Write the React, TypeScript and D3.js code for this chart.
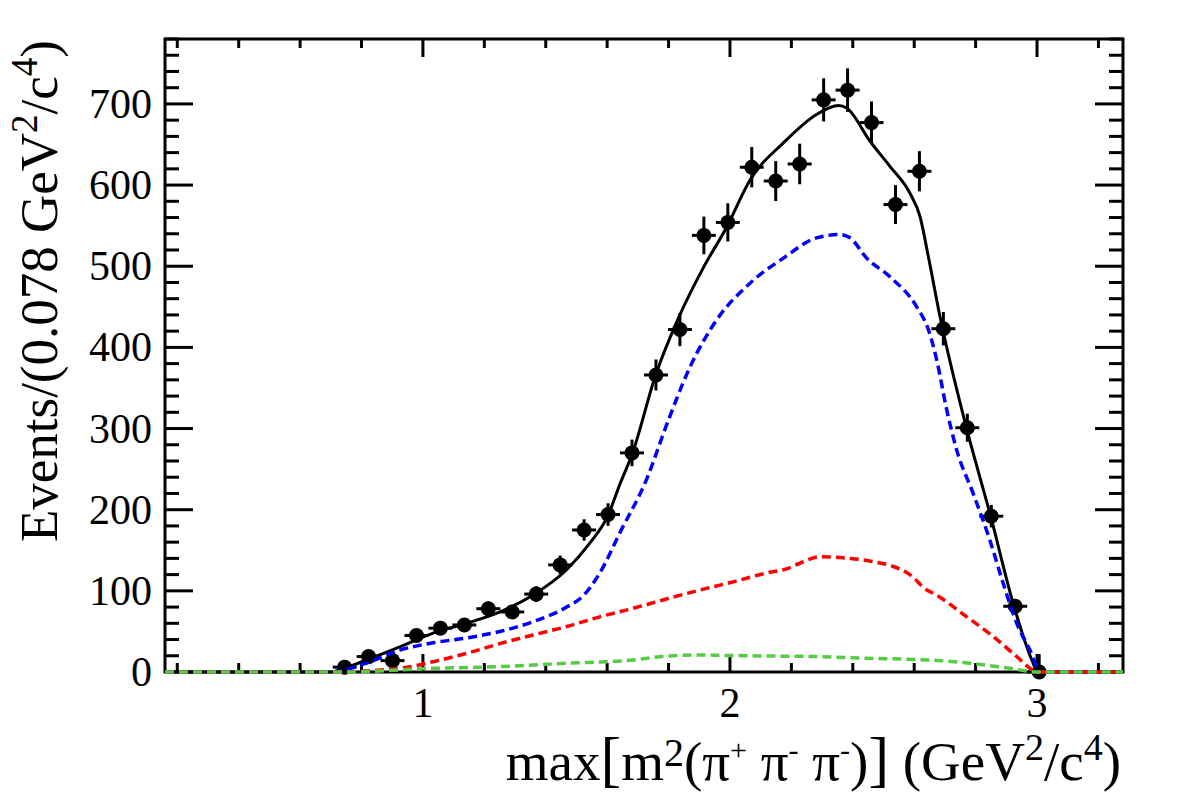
import { useEffect, useRef } from 'react';
import * as d3 from 'd3';

// histogram: 40 bins of 0.078 between 0.16 and 3.28, only filled bins are drawn
const binCenters = [
  0.745, 0.823, 0.901, 0.979, 1.057, 1.135, 1.213, 1.291, 1.369, 1.447,
  1.525, 1.603, 1.681, 1.759, 1.837, 1.915, 1.993, 2.071, 2.149, 2.227,
  2.305, 2.383, 2.461, 2.539, 2.617, 2.695, 2.773, 2.851, 2.929, 3.007,
];
const counts = [
  6, 19, 14, 45, 54, 58, 78, 74, 96, 132,
  175, 194, 270, 366, 422, 538, 554, 622, 605, 626,
  705, 717, 677, 576, 617, 423, 301, 192, 81, 0,
];
const countErrors = [
  2.4, 4.4, 3.7, 6.7, 7.3, 7.6, 8.8, 8.6, 9.8, 11.5,
  13.2, 13.9, 16.4, 19.1, 20.5, 23.2, 23.5, 24.9, 24.6, 25,
  26.6, 26.8, 26, 24, 24.8, 20.6, 17.3, 13.9, 9, 22,
];
const binHalfWidth = 0.039;

// fit projections
const totalFit: [number, number][] = [
  [0.16, 0], [0.697, 0], [0.746, 5], [0.817, 15], [0.925, 31], [1.033, 48],
  [1.143, 60], [1.251, 74], [1.359, 95], [1.468, 126], [1.544, 159],
  [1.603, 193], [1.642, 232], [1.681, 268], [1.758, 366], [1.832, 436],
  [1.913, 498], [1.989, 548], [2.065, 606], [2.174, 652], [2.282, 687],
  [2.353, 698], [2.38, 695], [2.456, 654], [2.521, 623], [2.586, 590],
  [2.619, 561], [2.646, 512], [2.684, 438], [2.77, 301], [2.849, 192],
  [2.925, 81], [2.983, 15], [3.003, 0], [3.28, 0],
];
const signal: [number, number][] = [
  [0.16, 0], [0.697, 0], [0.817, 11], [0.925, 27], [1.033, 36],
  [1.143, 42], [1.251, 50], [1.359, 62], [1.468, 80], [1.522, 94],
  [1.576, 122], [1.642, 172], [1.729, 238], [1.794, 305], [1.87, 376],
  [1.957, 434], [2.065, 479], [2.174, 510], [2.282, 535], [2.358, 539],
  [2.391, 535], [2.445, 510], [2.521, 487], [2.608, 450], [2.646, 422],
  [2.673, 385], [2.706, 323], [2.738, 274], [2.792, 220], [2.846, 163],
  [2.89, 109], [2.934, 60], [2.977, 27], [3.012, 0], [3.28, 0],
];
const background: [number, number][] = [
  [0.16, 0], [0.697, 0], [0.925, 4.5], [1.033, 12.7], [1.143, 23],
  [1.251, 35], [1.359, 45.6], [1.468, 56], [1.576, 68], [1.685, 78.5],
  [1.793, 90], [1.902, 101], [2.01, 111], [2.119, 122], [2.184, 127],
  [2.228, 134], [2.293, 142], [2.391, 140], [2.467, 136], [2.532, 130],
  [2.586, 120], [2.641, 101], [2.662, 97], [2.771, 68], [2.858, 43.5],
  [2.934, 19], [2.988, 2], [3.003, 0], [3.28, 0],
];
const peaking: [number, number][] = [
  [0.16, 0], [0.75, 0], [1.033, 4.5], [1.251, 6.6], [1.468, 10.7],
  [1.685, 14.8], [1.793, 19.7], [1.902, 21], [1.978, 20.5], [2.119, 19.7],
  [2.282, 19], [2.445, 17], [2.586, 15.6], [2.684, 14], [2.782, 10.7],
  [2.912, 4.5], [3.003, 0], [3.28, 0],
];

const xMajorTicks = [1, 2, 3];
const xMinorTicks = [0.2, 0.4, 0.6, 0.8, 1.2, 1.4, 1.6, 1.8, 2.2, 2.4, 2.6, 2.8, 3.2];
const yMajorTicks = [0, 100, 200, 300, 400, 500, 600, 700];

const FONT = "'Liberation Serif', 'Times New Roman', serif";

export default function App() {
  const svgRef = useRef<SVGSVGElement>(null);

  useEffect(() => {
    if (!svgRef.current) return;
    const svg = d3.select(svgRef.current);
    svg.selectAll('*').remove();

    const left = 165, right = 1123, top = 39, bottom = 672;

    const x = d3.scaleLinear().domain([0.16, 3.28]).range([left, right]);
    const y = d3.scaleLinear().domain([0, 780]).range([bottom, top]);

    const frame = svg.append('g');

    // frame
    frame.append('rect')
      .attr('x', left).attr('y', top)
      .attr('width', right - left).attr('height', bottom - top)
      .attr('fill', 'none')
      .attr('stroke', '#000')
      .attr('stroke-width', 3);

    // x ticks, bottom and top
    const xTick = (v: number, len: number) => {
      frame.append('line')
        .attr('x1', x(v)).attr('x2', x(v))
        .attr('y1', bottom).attr('y2', bottom - len)
        .attr('stroke', '#000').attr('stroke-width', 3);
      frame.append('line')
        .attr('x1', x(v)).attr('x2', x(v))
        .attr('y1', top).attr('y2', top + len)
        .attr('stroke', '#000').attr('stroke-width', 3);
    };
    xMajorTicks.forEach(v => xTick(v, 18));
    xMinorTicks.forEach(v => xTick(v, 9));

    // y ticks, left and right
    const yMinor = d3.range(0, 781, 20);
    yMinor.forEach(v => {
      const len = v % 100 === 0 ? 28 : 14;
      frame.append('line')
        .attr('x1', left).attr('x2', left + len)
        .attr('y1', y(v)).attr('y2', y(v))
        .attr('stroke', '#000').attr('stroke-width', 3);
      frame.append('line')
        .attr('x1', right).attr('x2', right - len)
        .attr('y1', y(v)).attr('y2', y(v))
        .attr('stroke', '#000').attr('stroke-width', 3);
    });

    // tick labels
    frame.selectAll('.xlab')
      .data(xMajorTicks)
      .enter()
      .append('text')
      .attr('x', d => x(d))
      .attr('y', 717)
      .attr('text-anchor', 'middle')
      .style('font-family', FONT)
      .style('font-size', '42px')
      .text(d => d);

    frame.selectAll('.ylab')
      .data(yMajorTicks)
      .enter()
      .append('text')
      .attr('x', 152)
      .attr('y', d => y(d) + 14)
      .attr('text-anchor', 'end')
      .style('font-family', FONT)
      .style('font-size', '42px')
      .text(d => d);

    // data points with error bars
    const pts = svg.append('g');
    binCenters.forEach((c, i) => {
      const v = counts[i];
      const e = countErrors[i];
      pts.append('line')
        .attr('x1', x(c - binHalfWidth)).attr('x2', x(c + binHalfWidth))
        .attr('y1', y(v)).attr('y2', y(v))
        .attr('stroke', '#000').attr('stroke-width', 3);
      pts.append('line')
        .attr('x1', x(c)).attr('x2', x(c))
        .attr('y1', Math.min(bottom, y(v - e))).attr('y2', y(v + e))
        .attr('stroke', '#000').attr('stroke-width', 3);
      pts.append('circle')
        .attr('cx', x(c)).attr('cy', y(v))
        .attr('r', 7.5)
        .attr('fill', '#000');
    });

    // fit curves
    const line = d3.line<[number, number]>()
      .x(d => x(d[0]))
      .y(d => y(d[1]))
      .curve(d3.curveMonotoneX);

    const curves: { data: [number, number][]; color: string; dash: string | null; w: number }[] = [
      { data: totalFit, color: '#000000', dash: null, w: 3 },
      { data: signal, color: '#0000ff', dash: '9,5', w: 3.5 },
      { data: background, color: '#ff0000', dash: '9,5', w: 3.5 },
      { data: peaking, color: '#55cc44', dash: '9,5', w: 3.5 },
    ];
    curves.forEach(cv => {
      svg.append('path')
        .attr('d', line(cv.data))
        .attr('fill', 'none')
        .attr('stroke', cv.color)
        .attr('stroke-width', cv.w)
        .attr('stroke-dasharray', cv.dash);
    });

    // axis titles
    const yTitle = svg.append('text')
      .attr('transform', 'rotate(-90)')
      .attr('x', -40)
      .attr('y', 57)
      .attr('text-anchor', 'end')
      .style('font-family', FONT)
      .style('font-size', '53px');
    yTitle.append('tspan').text('Events/(0.078 GeV');
    yTitle.append('tspan').attr('dy', -20).style('font-size', '37px').text('2');
    yTitle.append('tspan').attr('dy', 20).text('/c');
    yTitle.append('tspan').attr('dy', -20).style('font-size', '37px').text('4');
    yTitle.append('tspan').attr('dy', 20).text(')');

    const xTitle = svg.append('text')
      .attr('x', 1121)
      .attr('y', 780)
      .attr('text-anchor', 'end')
      .style('font-family', FONT)
      .style('font-size', '55px');
    xTitle.append('tspan').text('max');
    xTitle.append('tspan').style('font-size', '62px').text('[');
    xTitle.append('tspan').text('m');
    xTitle.append('tspan').attr('dy', -14).style('font-size', '40px').text('2');
    xTitle.append('tspan').attr('dy', 14).text('(π');
    xTitle.append('tspan').attr('dy', -20).style('font-size', '30px').text('+');
    xTitle.append('tspan').attr('dy', 20).text(' π');
    xTitle.append('tspan').attr('dy', -20).style('font-size', '30px').text('-');
    xTitle.append('tspan').attr('dy', 20).text(' π');
    xTitle.append('tspan').attr('dy', -20).style('font-size', '30px').text('-');
    xTitle.append('tspan').attr('dy', 20).text(')');
    xTitle.append('tspan').style('font-size', '62px').text(']');
    xTitle.append('tspan').text(' (GeV');
    xTitle.append('tspan').attr('dy', -20).style('font-size', '38px').text('2');
    xTitle.append('tspan').attr('dy', 20).text('/c');
    xTitle.append('tspan').attr('dy', -20).style('font-size', '38px').text('4');
    xTitle.append('tspan').attr('dy', 20).text(')');
  }, []);

  return (
    <div>
      <style>{`body { margin: 0; background: #fff; }`}</style>
      <svg ref={svgRef} width={1182} height={800} style={{ display: 'block' }} />
    </div>
  );
}
